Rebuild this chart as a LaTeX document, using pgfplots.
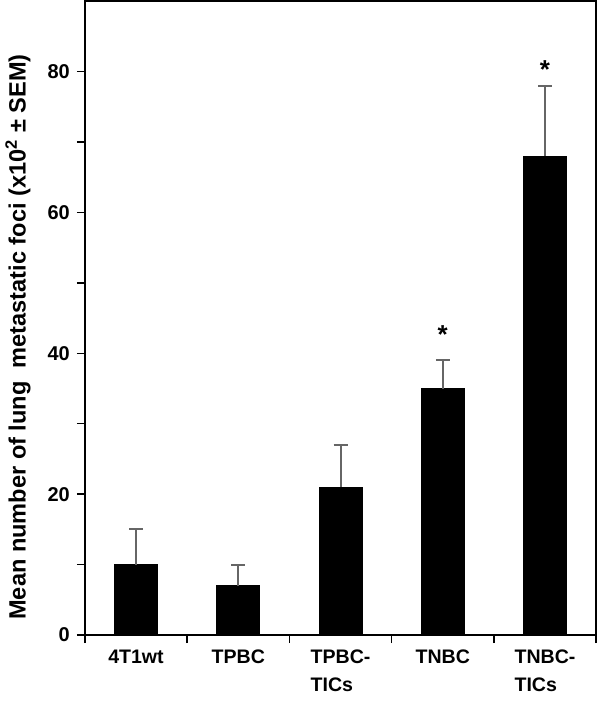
\documentclass[border=0pt]{standalone}
\usepackage{fontspec}
\setmainfont{Liberation Sans}
\usepackage{pgfplots}
\pgfplotsset{compat=1.18}

\definecolor{errgray}{HTML}{666666}

\begin{document}
\begin{tikzpicture}
  \begin{axis}[
    scale only axis,
    width=256pt, height=317.5pt,
    xmin=-0.5, xmax=4.5, ymin=0, ymax=90,
    axis line style={line width=0.75pt},
    tick style={line width=0.75pt, black},
    tick align=outside,
    xtick pos=bottom, ytick pos=left,
    major tick length=4pt, minor tick length=4pt,
    xtick={0,1,2,3,4},
    xticklabels={4T1wt, TPBC, TPBC-\\TICs, TNBC, TNBC-\\TICs},
    major x tick style={draw=none},
    minor xtick={-0.5,0.5,1.5,2.5,3.5,4.5},
    ytick={0,20,40,60,80},
    minor ytick={10,30,50,70},
    /pgf/number format/assume math mode=true,
    yticklabel style={font=\fontsize{10}{11}\selectfont\bfseries},
    xticklabel style={font=\fontsize{9.8}{14}\selectfont\bfseries, align=left},
    ylabel={Mean number of lung~ metastatic foci (x10\textsuperscript{2} ± SEM)},
    ylabel style={font=\fontsize{11.8}{13}\selectfont\bfseries,
      at={(axis description cs:-0.131,0.47)}, anchor=center},
  ]
    \addplot[ybar, bar width=0.42, fill=black, draw=black,
      error bars/.cd, y dir=plus, y explicit,
      error bar style={errgray, line width=1pt},
      error mark options={rotate=90, mark size=3.5pt, errgray, line width=1pt}]
      coordinates {
        (0,10) +- (0,5)
        (1,7)  +- (0,3)
        (2,21) +- (0,6)
        (3,35) +- (0,4)
        (4,68) +- (0,10)
      };
    \addplot[draw=none, mark=none, nodes near coords={*},
      every node near coord/.append style={font=\fontsize{13}{13}\selectfont\bfseries, anchor=center}]
      coordinates {(3,42.6) (4,80.3)};
  \end{axis}
  \pgfresetboundingbox
  \path (-42.5pt,-33pt) rectangle (257.5pt,318pt);
\end{tikzpicture}
\end{document}
